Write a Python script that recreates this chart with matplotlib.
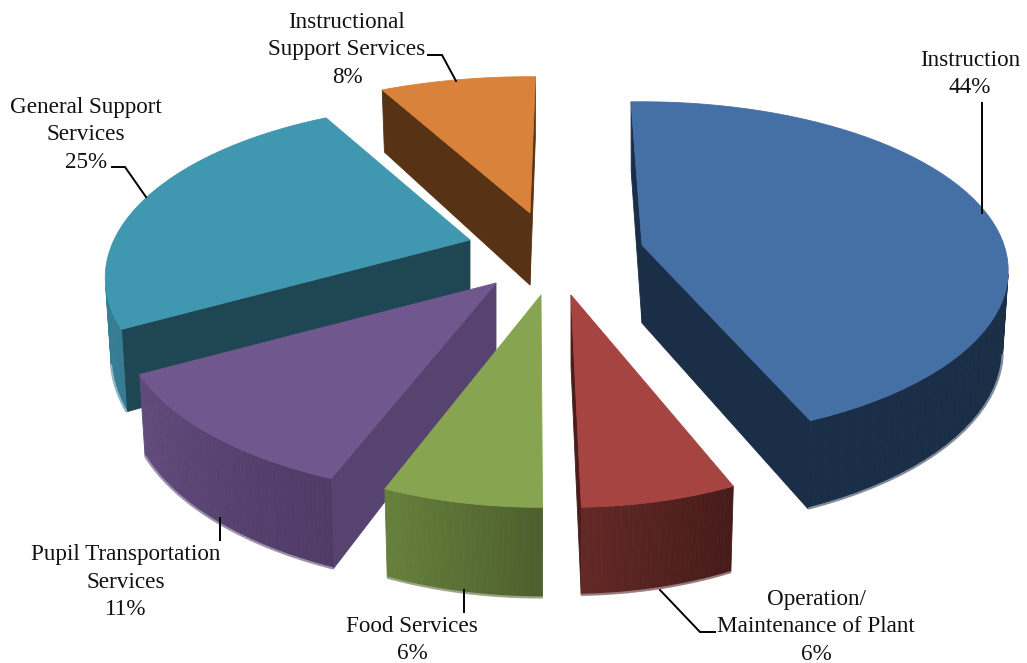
import numpy as np
import matplotlib
matplotlib.use('Agg')
import matplotlib.pyplot as plt
from matplotlib.patches import Polygon

# pie data, clockwise from the top
labels = ['Instruction', 'Operation/\nMaintenance of Plant', 'Food Services',
          'Pupil Transportation\nServices', 'General Support\nServices',
          'Instructional\nSupport Services']
values = [44, 6, 6, 11, 25, 8]

top_cols = ['#4470A6', '#A54441', '#87A551', '#70588F', '#4097B0', '#D9823B']
side_cols = ['#1B2E47', '#4A1D1B', '#57692F', '#57436F', '#1F4753', '#573215']
wall_light = ['#1B2E47', '#622825', '#66803C', '#614B7C', '#3D8CA5', '#573215']
wall_dark = ['#1B2E47', '#451B19', '#4D5F2C', '#4F3B66', '#357C92', '#573215']

# how far each slice is pulled out from the centre, pixels
shift = [(92, -13), (21, 37), (-9, 37), (-54, 25), (-80, -18), (-20, -45)]
# small per slice fixes to the fake perspective
rot = [0.0, 0.6, 1.8, 1.5, 2.0, 3.0]
persp = [0.152, 0.218, 0.218, 0.218, 0.218, 0.218]
rad_x = [362, 332, 341, 365, 356, 378]
rad_y = [165, 166, 166, 167, 166, 166]
depth = [78, 71, 73, 74, 75, 72]

# where each label and its leader line sit, pixels
label_pos = [(970, 74), (816, 627), (412, 640), (126, 582), (86, 135), (347, 50)]
leaders = [[(982, 103), (982, 213)],
           [(660, 590), (700, 632), (715, 632)],
           [(464, 590), (464, 612)],
           [(220, 518), (220, 540)],
           [(112, 167), (125, 167), (146, 197)],
           [(428, 55), (442, 55), (456, 81)]]

CENTER = (550, 258)
START = -2
BOTTOM_SHRINK = 0.985
DRAW_ORDER = [5, 4, 0, 3, 2, 1]

def polar(deg):
    t = np.radians(deg)
    return np.sin(t), np.cos(t)

def blend(c1, c2, f):
    c1 = np.array(matplotlib.colors.to_rgb(c1))
    c2 = np.array(matplotlib.colors.to_rgb(c2))
    return tuple(c1 * (1 - f) + c2 * f)

def signed_area(p):
    x, y = p[:, 0], p[:, 1]
    return 0.5 * np.sum(x * np.roll(y, -1) - np.roll(x, -1) * y)

def add_poly(ax, pts, col):
    ax.add_patch(Polygon(pts, closed=True, facecolor=col, edgecolor=col, linewidth=0.6))

def draw_slice(ax, i, a0, a1):
    apex = np.array([CENTER[0] + shift[i][0], CENTER[1] + shift[i][1]], dtype=float)

    angles = np.linspace(a0 + rot[i], a1 + rot[i], 60)
    ux, uy = polar(angles)
    w = 1 + persp[i] * uy
    sx = rad_x[i] * ux / w
    sy = -rad_y[i] * uy / w
    top = apex + np.column_stack((sx, sy))
    low = apex + np.column_stack((sx * BOTTOM_SHRINK, sy * BOTTOM_SHRINK + depth[i] / w))
    apex_low = apex + np.array([0, depth[i]])

    # radial faces, only those turned to the viewer
    for q in ([top[0], apex, apex_low, low[0]], [apex, top[-1], low[-1], apex_low]):
        q = np.array(q)
        if signed_area(q) > 0:
            add_poly(ax, q, side_cols[i])

    # outer wall in strips for the shading, front arc runs right to left
    for k in range(len(angles) - 1):
        q = np.array([top[k + 1], top[k], low[k], low[k + 1]])
        if signed_area(q) > 0:
            add_poly(ax, q, blend(wall_dark[i], wall_light[i], k / (len(angles) - 2)))
            ax.plot(low[k:k + 2, 0], low[k:k + 2, 1], color=blend(wall_dark[i], 'white', 0.45),
                    lw=1.6, solid_capstyle='butt')

    add_poly(ax, np.vstack((apex, top)), top_cols[i])

plt.rcParams['font.family'] = ['Liberation Serif', 'DejaVu Serif']

fig = plt.figure(figsize=(10.27, 6.63), dpi=100)
ax = fig.add_axes([0, 0, 1, 1])
ax.set_xlim(0, 1027)
ax.set_ylim(663, 0)
ax.axis('off')

edges = START + 360 * np.concatenate(([0], np.cumsum(values))) / np.sum(values)
for i in DRAW_ORDER:
    draw_slice(ax, i, edges[i], edges[i + 1])

for i in range(len(labels)):
    ax.text(label_pos[i][0], label_pos[i][1], '%s\n%d%%' % (labels[i], values[i]),
            ha='center', va='center', ma='center', fontsize=16.7, color='#111111', linespacing=1.38)
    pts = np.array(leaders[i])
    ax.plot(pts[:, 0], pts[:, 1], color='black', lw=1.4, solid_joinstyle='miter')

fig.savefig('out.png', dpi=100, facecolor='white')
